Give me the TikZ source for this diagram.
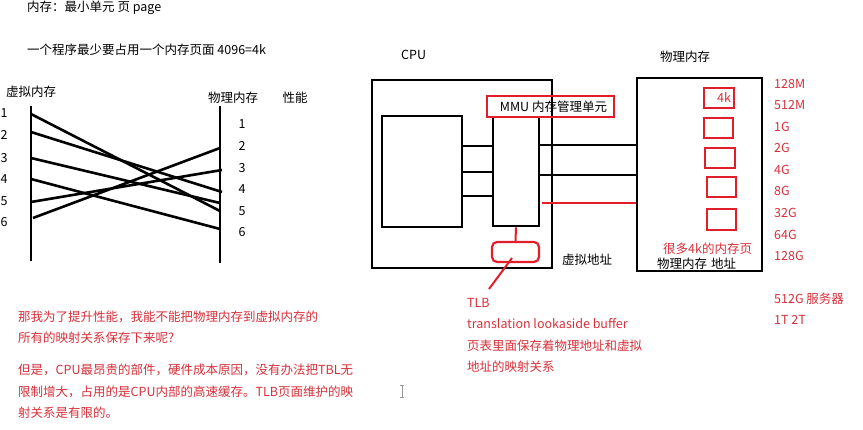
\documentclass[tikz,border=0pt]{standalone}
\usepackage{fontspec}
\setmainfont{Noto Sans CJK SC}
\definecolor{rd}{RGB}{226,30,42}
\definecolor{rdt}{RGB}{214,48,58}
\definecolor{cur}{RGB}{150,150,150}
\begin{document}
\begin{tikzpicture}[x=1pt,y=-1pt,
  txt/.style={inner sep=0pt, anchor=west, font=\fontsize{12.5}{14}\selectfont},
  rtxt/.style={txt, text=rdt},
  num/.style={inner sep=0pt, font=\fontsize{12.5}{14}\selectfont},
  blk/.style={line width=2.6pt, black},
  bbox/.style={draw=black, line width=2.6pt, inner sep=0pt},
  rbox/.style={draw=rd, line width=2.4pt, inner sep=0pt},
  rline/.style={line width=2pt, rd}]
\useasboundingbox (0,0) rectangle (863,430);

% top texts
\node[txt] (t1) at (27,8) {内存：最小单元 页 page};
\node[txt] (t2) at (27,50) {一个程序最少要占用一个内存页面 4096=4k};

% left mapping diagram
\node[txt] (vm) at (6,92) {虚拟内存};
\node[num] (pm) at (233,98) {物理内存};
\node[num] (perf) at (295,98) {性能};
\coordinate (vt) at (31,106); \coordinate (vb) at (31,261);
\coordinate (pt) at (220,106); \coordinate (pb) at (220,263);
\draw[blk] (vt) -- (vb);
\draw[blk] (pt) -- (pb);
\foreach \i/\y in {1/113,2/135,3/158,4/179,5/201,6/222}{
  \node[num] (ln\i) at (4,\y) {\i};
}
\foreach \i/\y in {1/124,2/146,3/168,4/189,5/211,6/232}{
  \node[num] (rn\i) at (242,\y) {\i};
}
\coordinate (a1) at (31,114); \coordinate (a2) at (31,132);
\coordinate (a3) at (31,158); \coordinate (a4) at (31,179);
\coordinate (a5) at (31,202); \coordinate (a6) at (33,218);
\coordinate (b1) at (220,211); \coordinate (b2) at (222,192);
\coordinate (b3) at (220,203); \coordinate (b4) at (220,229);
\coordinate (b5) at (222,170); \coordinate (b6) at (220,148);
\foreach \i in {1,...,6}{ \draw[blk] (a\i) -- (b\i); }

% CPU
\node[txt] (cpu) at (401,55) {CPU};
\node[bbox, minimum width=180, minimum height=188] (cpubox) at (462,174) {};
\node[bbox, minimum width=80, minimum height=111] (core) at (422,171.5) {};
\node[bbox, minimum width=46, minimum height=109] (mmu) at (516,171.5) {};
\node[rbox, minimum width=127, minimum height=21, font=\fontsize{12.5}{14}\selectfont] (mmulbl) at (550.5,106.5) {\hspace*{6pt}MMU 内存管理单元};
\draw[blk] (core.east |- 0,146) -- (mmu.west |- 0,146);
\draw[blk] (core.east |- 0,172) -- (mmu.west |- 0,172);
\draw[blk] (core.east |- 0,196) -- (mmu.west |- 0,196);

% physical memory box
\node[txt] (pmt) at (660,57) {物理内存};
\node[bbox, minimum width=125, minimum height=193] (pmbox) at (699.5,174.5) {};
\draw[blk] (mmu.east |- 0,145) -- (pmbox.west |- 0,145);
\draw[blk] (mmu.east |- 0,175) -- (pmbox.west |- 0,175);
\draw[rline] (542,203) -- (pmbox.west |- 0,203);

% TLB
\node[draw=rd, line width=2.2pt, rounded corners=5pt, minimum width=47, minimum height=20, inner sep=0pt] (tlb) at (515.5,252) {};
\draw[rline] (mmu.south) -- (tlb.north);
\coordinate (tlbend) at (489,289);
\draw[rline] (512,258) -- (tlbend);
\node[txt] (va) at (562,260) {虚拟地址};

% pages
\node[rbox, minimum width=30, minimum height=20] (pg1) at (719,98) {};
\node[inner sep=0pt, text=rdt, font=\fontsize{12.5}{14}\selectfont] (pg1t) at (724,98) {4k};
\node[rbox, minimum width=29, minimum height=20] (pg2) at (718.5,128) {};
\node[rbox, minimum width=30, minimum height=20] (pg3) at (720,158) {};
\node[rbox, minimum width=29, minimum height=20] (pg4) at (721.5,187) {};
\node[rbox, minimum width=29, minimum height=21] (pg5) at (721.5,219.5) {};
\node[rtxt] (many) at (663,249) {很多4k的内存页};
\node[txt] (pmaddr) at (657,264) {物理内存\hspace{4pt}地址};

% sizes
\foreach \s/\y [count=\k] in {128M/84,512M/105,1G/127,2G/148,4G/170,8G/191,32G/213,64G/235,128G/256}{
  \node[rtxt] (sz\k) at (774,\y) {\s};
}
\node[rtxt] (sz512) at (774,299) {512G 服务器};
\node[rtxt] (sz1t) at (774,320) {1T 2T};

% TLB explanation
\node[rtxt] (e1) at (467,303) {TLB};
\node[rtxt] (e2) at (467,324) {translation lookaside buffer};
\node[rtxt] (e3) at (467,346) {页表里面保存着物理地址和虚拟};
\node[rtxt] (e4) at (467,367) {地址的映射关系};

% bottom-left explanation
\node[rtxt] (q1) at (18,317) {那我为了提升性能，我能不能把物理内存到虚拟内存的};
\node[rtxt] (q2) at (18,338) {所有的映射关系保存下来呢?};
\node[rtxt] (q3) at (18,370) {但是，CPU最昂贵的部件，硬件成本原因，没有办法把TBL无};
\node[rtxt] (q4) at (18,392) {限制增大，占用的是CPU内部的高速缓存。TLB页面维护的映};
\node[rtxt] (q5) at (18,413) {射关系是有限的。};

% text cursor
\draw[cur, line width=0.8pt] (402,385) -- (402,397) (400,385) -- (404,385) (400,397) -- (404,397);
\end{tikzpicture}
\end{document}
